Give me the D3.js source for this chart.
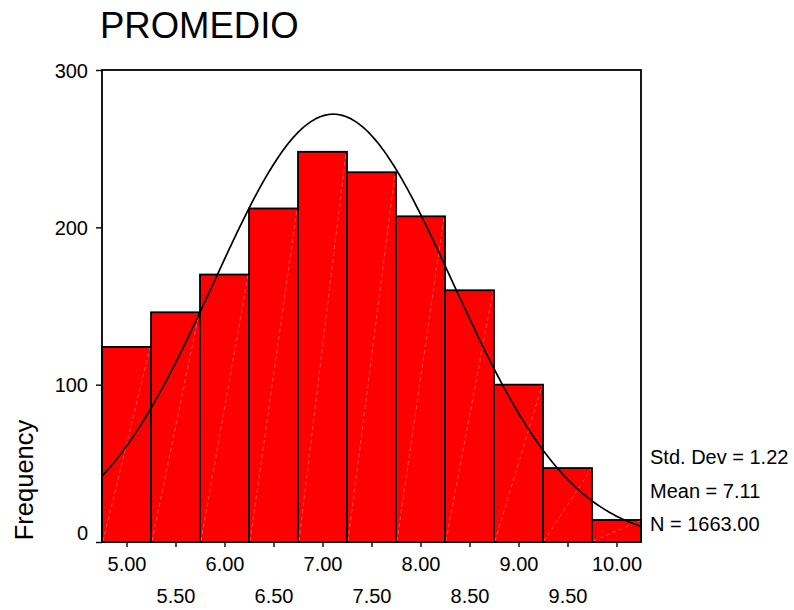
<!DOCTYPE html>
<html>
<head>
<meta charset="utf-8">
<script src="https://cdn.jsdelivr.net/npm/d3@7/dist/d3.min.js"></script>
<style>
  html, body { margin: 0; padding: 0; background: #fff; }
  svg { display: block; font-family: "Liberation Sans", Arial, sans-serif; }
</style>
</head>
<body>
<svg id="chart" width="794" height="610"></svg>
<script>
// Histogram of PROMEDIO: bin centres and counts (bin width 0.5)
const binCenters = [5.0, 5.5, 6.0, 6.5, 7.0, 7.5, 8.0, 8.5, 9.0, 9.5, 10.0];
const counts = [124, 146, 170, 212, 248, 235, 207, 160, 100, 47, 14];
const binWidth = 0.5;

// Summary statistics shown beside the chart
const stdDev = 1.22;
const mean = 7.11;
const nCases = 1663;
const statLabels = ["Std. Dev = 1.22", "Mean = 7.11", "N = 1663.00"];

const yTicks = [0, 100, 200, 300];
const xTickLabels = ["5.00", "5.50", "6.00", "6.50", "7.00", "7.50", "8.00", "8.50", "9.00", "9.50", "10.00"];

const svg = d3.select("#chart");
const plot = { left: 102, right: 641, top: 70, bottom: 542 };

const x = d3.scaleLinear()
  .domain([binCenters[0] - binWidth / 2, binCenters[binCenters.length - 1] + binWidth / 2])
  .range([plot.left, plot.right]);
const y = d3.scaleLinear().domain([0, 300]).range([plot.bottom, plot.top]);

// Title
svg.append("text")
  .attr("x", 100).attr("y", 37.5)
  .attr("font-size", 36.5)
  .attr("fill", "#000")
  .text("PROMEDIO");

// Bars
const bars = binCenters.map((c, i) => ({ x0: c - binWidth / 2, x1: c + binWidth / 2, n: counts[i] }));
svg.append("g").selectAll("rect").data(bars).join("rect")
  .attr("x", d => x(d.x0))
  .attr("y", d => y(d.n))
  .attr("width", d => x(d.x1) - x(d.x0))
  .attr("height", d => y(0) - y(d.n))
  .attr("fill", "#ff0000")
  .attr("stroke", "#000")
  .attr("stroke-width", 1.8);

// Faint diagonal shading lines inside each bar
svg.append("g").selectAll("line").data(bars).join("line")
  .attr("x1", d => x(d.x0) + 1)
  .attr("y1", y(0) - 1)
  .attr("x2", d => x(d.x1) - 1)
  .attr("y2", d => y(d.n) + 1)
  .attr("stroke", "rgba(255,255,255,0.4)")
  .attr("stroke-width", 0.8)
  .attr("stroke-dasharray", "4,3");

// Normal curve from the stated mean, std. dev and N
const curveXs = d3.range(x.domain()[0], x.domain()[1] + 1e-9, 0.02);
const normalCount = v => nCases * binWidth * Math.exp(-0.5 * ((v - mean) / stdDev) ** 2) / (stdDev * Math.sqrt(2 * Math.PI));
svg.append("path")
  .datum(curveXs)
  .attr("fill", "none")
  .attr("stroke", "#000")
  .attr("stroke-width", 1.7)
  .attr("d", d3.line().x(v => x(v)).y(v => y(normalCount(v))));

// Frame
svg.append("rect")
  .attr("x", plot.left).attr("y", plot.top)
  .attr("width", plot.right - plot.left).attr("height", plot.bottom - plot.top)
  .attr("fill", "none").attr("stroke", "#000").attr("stroke-width", 1.8);

// Y axis
const yAxis = svg.append("g").attr("transform", `translate(${plot.left},0)`)
  .call(d3.axisLeft(y).tickValues(yTicks).tickSize(6).tickPadding(8).tickFormat(d3.format("d")));
yAxis.select(".domain").remove();
yAxis.selectAll("line").attr("stroke", "#000").attr("stroke-width", 1.4);
yAxis.selectAll("text")
  .attr("font-size", 20)
  .attr("font-family", "Liberation Sans, Arial, sans-serif")
  .attr("fill", "#000")
  .attr("dy", d => d === 0 ? "-0.15em" : "0.35em");

// X axis
const xAxis = svg.append("g").attr("transform", `translate(0,${plot.bottom})`)
  .call(d3.axisBottom(x).tickValues(binCenters).tickSize(5).tickFormat((d, i) => xTickLabels[i]));
xAxis.select(".domain").remove();
xAxis.selectAll("line").attr("stroke", "#000").attr("stroke-width", 1.4);
xAxis.selectAll("text")
  .attr("font-size", 20)
  .attr("font-family", "Liberation Sans, Arial, sans-serif")
  .attr("fill", "#000")
  .attr("dy", null)
  .attr("y", (d, i) => i % 2 === 0 ? 29 : 61);

// Y axis title
svg.append("text")
  .attr("transform", "translate(33,480) rotate(-90)")
  .attr("text-anchor", "middle")
  .attr("font-size", 25.5)
  .attr("fill", "#000")
  .text("Frequency");

// Statistics block
svg.append("g").selectAll("text").data(statLabels).join("text")
  .attr("x", 650)
  .attr("y", (d, i) => 464 + i * 33.5)
  .attr("font-size", 20)
  .attr("fill", "#000")
  .text(d => d);
</script>
</body>
</html>
